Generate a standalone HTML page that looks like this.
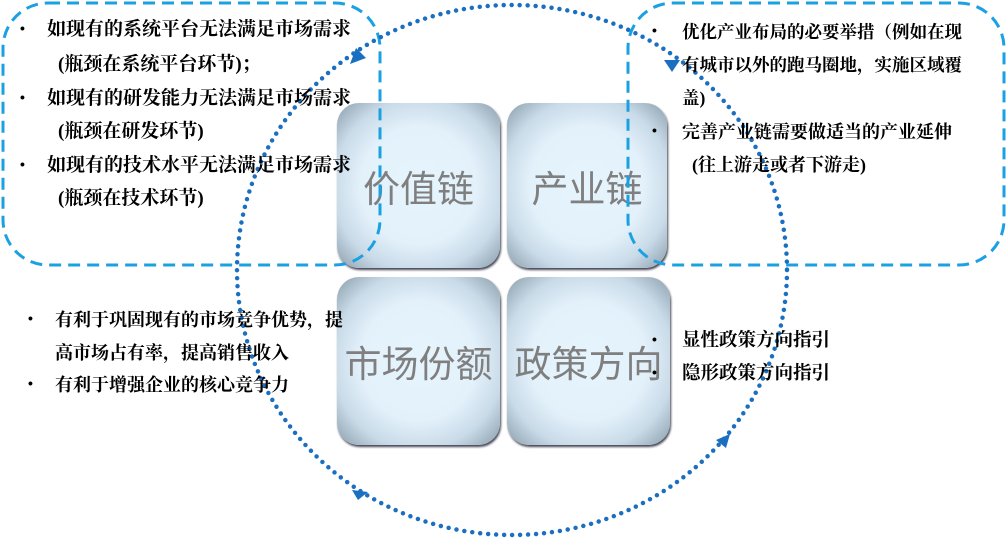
<!DOCTYPE html>
<html><head><meta charset="utf-8"><style>
body{margin:0;width:1007px;height:540px;background:#fff;position:relative;overflow:hidden;font-family:"Liberation Sans","Noto Sans CJK SC",sans-serif}
.box{position:absolute;border-radius:22px;background:radial-gradient(ellipse at center,#e6f4fd 0%,#e3f1fb 50%,#c9dbe8 74%,#8a9dab 100%);box-shadow:1px 2px 2px #445;display:flex;align-items:center;justify-content:center;color:#7f7f7f;font-size:37px}
.t{position:absolute;font-size:18.5px;color:#000;white-space:nowrap;font-weight:bold;font-family:"Liberation Serif","Noto Serif CJK SC",serif;line-height:20px}
.l{font-size:19px}
.b{position:absolute;font-size:14px;font-weight:bold}
</style></head><body>
<div class="box" style="left:337px;top:103px;width:163px;height:165px">价值链</div>
<div class="box" style="left:507px;top:103px;width:160px;height:165px">产业链</div>
<div class="box" style="left:337px;top:277px;width:163px;height:168px">市场份额</div>
<div class="box" style="left:507px;top:277px;width:163px;height:168px">政策方向</div>
<svg width="1007" height="540" style="position:absolute;left:0;top:0">
<rect x="3" y="3" width="377" height="262" rx="45" fill="none" stroke="#1ba1e2" stroke-width="3" stroke-dasharray="12,7"/>
<rect x="628" y="3" width="376" height="262" rx="45" fill="none" stroke="#1ba1e2" stroke-width="3" stroke-dasharray="12,7"/>
<ellipse cx="512" cy="270" rx="275" ry="265" fill="none" stroke="#1a6fc0" stroke-width="4.5" stroke-linecap="round" stroke-dasharray="0,8"/>
<g fill="#1a6fc0">
<polygon points="350,64 356,48 366,58"/>
<polygon points="664,60 680,60 672,72"/>
<polygon points="352,490 368,492 358,500"/>
<polygon points="730,434 716,440 726,448"/>
</g>
</svg>
<div class="b" style="left:20px;top:20px">•</div><div class="t l" style="left:47px;top:20px">如现有的系统平台无法满足市场需求</div>
<div class="t l" style="left:58px;top:55px">(瓶颈在系统平台环节)；</div>
<div class="b" style="left:20px;top:89px">•</div><div class="t l" style="left:47px;top:89px">如现有的研发能力无法满足市场需求</div>
<div class="t l" style="left:58px;top:122px">(瓶颈在研发环节)</div>
<div class="b" style="left:20px;top:156px">•</div><div class="t l" style="left:47px;top:156px">如现有的技术水平无法满足市场需求</div>
<div class="t l" style="left:58px;top:189px">(瓶颈在技术环节)</div>
<div class="b" style="left:652px;top:22px">•</div><div class="t" style="left:682px;top:22px;font-size:17.5px">优化产业布局的必要举措（例如在现</div>
<div class="t" style="left:682px;top:55px;font-size:17.5px">有城市以外的跑马圈地，实施区域覆</div>
<div class="t" style="left:682px;top:88px;font-size:17.5px">盖)</div>
<div class="b" style="left:652px;top:122px">•</div><div class="t" style="left:682px;top:122px;font-size:18px">完善产业链需要做适当的产业延伸</div>
<div class="t" style="left:692px;top:155px;font-size:18px">(往上游走或者下游走)</div>
<div class="b" style="left:28px;top:310px">•</div><div class="t" style="left:55px;top:310px;font-size:18px">有利于巩固现有的市场竞争优势，提</div>
<div class="t" style="left:55px;top:343px;font-size:18px">高市场占有率，提高销售收入</div>
<div class="b" style="left:28px;top:375px">•</div><div class="t" style="left:55px;top:375px;font-size:18px">有利于增强企业的核心竞争力</div>
<div class="b" style="left:652px;top:331px">•</div><div class="t" style="left:682px;top:331px">显性政策方向指引</div>
<div class="b" style="left:652px;top:364px">•</div><div class="t" style="left:682px;top:364px">隐形政策方向指引</div>
</body></html>
